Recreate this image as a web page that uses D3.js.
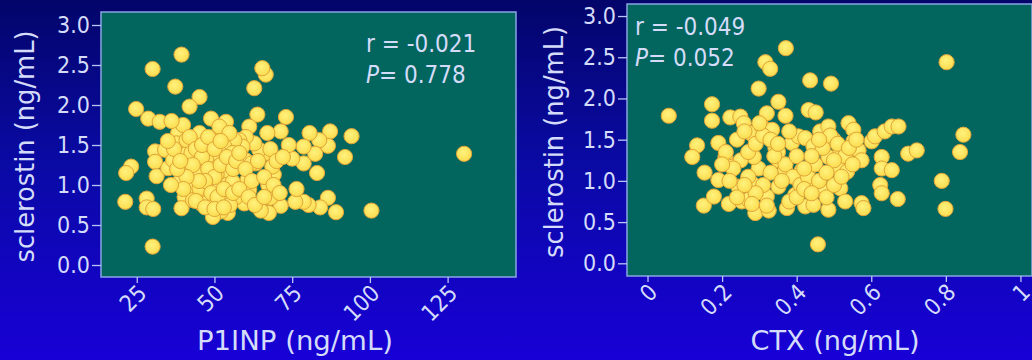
<!DOCTYPE html>
<html>
<head>
<meta charset="utf-8">
<script src="https://cdn.jsdelivr.net/npm/d3@7"></script>
<style>
  html, body { margin: 0; padding: 0; background: #0a0890; }
  svg { display: block; }
  text { font-family: "DejaVu Sans Condensed", "DejaVu Sans", sans-serif; font-stretch: condensed; fill: #d4dcfa; }
</style>
</head>
<body>
<div id="chart"></div>
<script>
// P1INP (ng/mL) vs sclerostin (ng/mL)
const p1npX = [130.3,100.5,94.1,92,89.1,87.2,86.5,86.5,83.7,84,82.4,83,80.6,78.7,78.7,80.3,78.7,76,76.4,75,73.9,73,71.3,71.3,70.7,68,67.5,64.9,66.5,65.4,62.8,63.8,67,66.5,69.1,68.6,67.3,64.4,62.8,63.3,61.2,60.1,58,59,58,60.6,61.2,59.6,60,62,56.4,53.7,53.2,53.7,54.8,53.7,52.7,54.3,52.1,49.5,48.9,51.1,51.6,49.5,48.4,50,47.9,45.7,46.8,45.2,44.1,43.1,42,40.4,39.4,41,39.4,38.3,37.8,39.9,38.8,45.2,42,37.4,39.4,30.1,24.8,28.7,32.4,36.2,23.2,21.6,21.3,28.2,28.2,30.3,30.1,30.9,30.9,31.4,34.1,35.1,36.7,45.2,44.1,46.8,43.1,45.2,49.5,51.6,47.4,55.9,55.9,57,50.7,47.4,51.2,45.2,54.8,41,42.6,
  42,44,46,48,50,52,54,56,47,49,51,53,55,57,43,45,41,46,48,50,52,58,60,62,64,66,68,70,72,40,44,47,50,53,56,58,61,63,66,69,71,38,37,36,39,35];
const p1npY = [1.39,0.68,1.61,1.35,0.66,1.67,1.49,0.84,1.56,0.72,1.39,1.15,1.65,1.48,1.27,0.75,0.79,0.79,0.95,1.33,1.5,1.85,1.67,0.74,0.9,0.84,0.65,0.68,2.38,2.46,2.21,1.88,1.65,1.4,1.13,1.23,1.0,1.44,1.52,1.27,1.73,1.6,1.56,1.48,1.31,1.06,0.94,0.77,1.31,1.27,1.56,1.79,1.48,1.27,1.15,1.0,0.81,0.65,0.67,0.6,1.83,1.63,1.4,1.31,1.15,0.98,0.9,0.77,1.56,1.44,1.27,1.13,0.94,0.85,0.71,1.27,1.4,1.65,1.52,1.75,1.04,2.1,1.98,2.23,2.63,2.45,1.95,1.83,1.79,1.8,1.23,1.15,0.79,0.83,0.72,0.7,0.23,1.42,1.29,1.11,1.44,1.21,1.31,1.65,1.15,0.98,0.81,1.48,1.56,1.73,1.31,1.4,1.04,0.85,1.13,0.77,1.23,0.96,1.65,1.56,1.4,
  1.6,1.45,1.35,1.2,1.1,1.25,1.35,1.2,1.05,0.9,0.85,0.95,0.75,1.3,1.25,1.05,1.1,1.5,1.6,1.45,1.55,1.4,1.2,1.05,1.3,1.1,1.45,1.3,1.35,0.95,0.8,0.72,0.7,0.72,0.9,0.95,0.85,0.75,0.85,1.0,0.9,1.2,1.45,1.0,1.3,1.55];

// CTX (ng/mL) vs sclerostin (ng/mL)
const ctxX = [0.057,0.173,0.173,0.133,0.12,0.153,0.151,0.178,0.19,0.19,0.218,0.209,0.222,0.249,0.258,0.24,0.227,0.244,0.253,0.271,0.289,0.325,0.32,0.28,0.298,0.285,0.276,0.307,0.32,0.351,0.37,0.298,0.316,0.329,0.371,0.436,0.492,0.432,0.451,0.334,0.343,0.351,0.369,0.351,0.374,0.396,0.387,0.405,0.423,0.445,0.414,0.436,0.423,0.445,0.45,0.472,0.485,0.457,0.463,0.485,0.499,0.485,0.508,0.517,0.517,0.53,0.535,0.539,0.552,0.552,0.566,0.574,0.574,0.579,0.601,0.61,0.636,0.655,0.673,0.628,0.628,0.655,0.624,0.628,0.671,0.699,0.722,0.802,0.847,0.838,0.789,0.799,
  0.25,0.27,0.29,0.31,0.33,0.35,0.37,0.39,0.41,0.43,0.45,0.47,0.49,0.51,0.53,0.55,0.33,0.31,0.29,0.27,0.23,0.21,0.26,0.3,0.34,0.36,0.38,0.4,0.42,0.44,0.46,0.48,0.5,0.52,0.54,0.56,0.32,0.28,0.24,0.35,0.38,0.4,0.42,0.44,0.46,0.5,0.48,0.26,0.22,0.2];
const ctxY = [1.79,1.93,1.73,1.43,1.29,1.10,0.70,0.81,1.01,1.46,0.72,1.29,1.77,1.78,1.70,1.50,1.17,0.93,0.75,0.77,0.61,0.64,0.81,0.97,1.15,1.29,1.58,1.66,1.82,1.96,1.79,2.12,2.44,2.36,2.61,2.22,2.18,1.86,1.83,1.62,1.40,1.25,1.13,0.93,0.67,0.83,1.46,1.54,1.52,1.42,1.13,1.17,0.69,0.71,0.99,0.87,0.65,0.23,1.60,1.66,1.50,1.29,1.17,1.33,0.91,0.75,1.11,1.70,1.62,1.48,1.37,1.25,0.73,0.67,1.48,1.54,1.60,1.66,1.66,1.29,1.15,1.13,0.95,0.85,0.78,1.33,1.37,2.44,1.56,1.35,1.00,0.66,
  1.25,1.35,1.45,1.55,1.5,1.35,1.2,1.05,0.95,1.05,1.2,1.4,1.55,1.45,1.3,1.2,1.1,0.95,0.85,1.05,1.15,1.35,1.6,1.7,1.3,1.0,0.75,0.8,0.9,1.3,1.0,0.8,0.95,1.05,1.4,1.5,0.7,0.72,0.8,1.45,1.6,1.3,1.15,0.85,1.5,1.25,1.1,0.95,1.0,1.2];

const yTicks = [0, 0.5, 1.0, 1.5, 2.0, 2.5, 3.0];
const p1npTicks = [25, 50, 75, 100, 125];
const ctxTicks = [0, 0.2, 0.4, 0.6, 0.8, 1];

const width = 1032;
const height = 360;

const svg = d3.select("#chart")
    .append("svg")
    .attr("width", width)
    .attr("height", height);

//Background gradient
const defs = svg.append("defs");
const bg = defs.append("linearGradient")
    .attr("id", "bg")
    .attr("x1", 0).attr("y1", 0)
    .attr("x2", 0).attr("y2", 1);
bg.append("stop").attr("offset", "0%").attr("stop-color", "#03056a");
bg.append("stop").attr("offset", "45%").attr("stop-color", "#0a0aa4");
bg.append("stop").attr("offset", "100%").attr("stop-color", "#1800d6");

const dotFill = defs.append("radialGradient")
    .attr("id", "dot")
    .attr("cx", "45%").attr("cy", "40%").attr("r", "60%");
dotFill.append("stop").attr("offset", "0%").attr("stop-color", "#fff27e");
dotFill.append("stop").attr("offset", "100%").attr("stop-color", "#fbdc4e");

svg.append("rect")
    .attr("width", width)
    .attr("height", height)
    .attr("fill", "url(#bg)");

function drawPanel(cfg) {
    const x = d3.scaleLinear().domain(cfg.xDomain).range(cfg.xRange);
    const y = d3.scaleLinear().domain(cfg.yDomain).range(cfg.yRange);
    const g = svg.append("g");

    //Plot area
    g.append("rect")
        .attr("x", cfg.xRange[0])
        .attr("y", cfg.yRange[1])
        .attr("width", cfg.xRange[1] - cfg.xRange[0])
        .attr("height", cfg.yRange[0] - cfg.yRange[1])
        .attr("fill", "#02665f")
        .attr("stroke", "#8aa4e4")
        .attr("stroke-width", 1.5);

    //Y axis
    const yAxis = g.append("g")
        .attr("transform", `translate(${cfg.xRange[0]},0)`)
        .call(d3.axisLeft(y).tickValues(yTicks).tickFormat(d3.format(".1f")).tickSize(9).tickPadding(2));
    yAxis.select(".domain").remove();
    yAxis.selectAll("line").attr("stroke", "#b8c6f4").attr("stroke-width", 1.3);
    yAxis.selectAll("text")
        .attr("font-size", 23)
        .attr("fill", "#d4dcfa")
        .attr("font-family", null);

    //X axis
    const xAxis = g.append("g")
        .attr("transform", `translate(0,${cfg.yRange[0]})`)
        .call(d3.axisBottom(x).tickValues(cfg.xTicks).tickFormat(d => String(d)).tickSize(6));
    xAxis.select(".domain").remove();
    xAxis.selectAll("line").attr("stroke", "#b8c6f4").attr("stroke-width", 1.3);
    xAxis.selectAll("text")
        .attr("font-size", 23)
        .attr("fill", "#d4dcfa")
        .attr("font-family", null)
        .attr("text-anchor", "end")
        .attr("y", 0)
        .attr("dy", "0.35em")
        .attr("transform", "translate(5,12) rotate(-45)");

    //Points
    g.append("g")
        .selectAll("circle")
        .data(d3.range(cfg.xs.length))
        .enter().append("circle")
        .attr("cx", i => x(cfg.xs[i]))
        .attr("cy", i => y(cfg.ys[i]))
        .attr("r", 7.6)
        .attr("fill", "url(#dot)")
        .attr("stroke", "#e0a43a")
        .attr("stroke-width", 1);

    //Axis titles
    g.append("text")
        .attr("transform", `translate(${cfg.yTitleX},${(cfg.yRange[0] + cfg.yRange[1]) / 2 + 2}) rotate(-90)`)
        .attr("text-anchor", "middle")
        .attr("dy", "0.35em")
        .attr("font-size", 27)
        .attr("textLength", 232)
        .attr("lengthAdjust", "spacingAndGlyphs")
        .text("sclerostin (ng/mL)");
    g.append("text")
        .attr("x", cfg.xTitleX)
        .attr("y", 350)
        .attr("text-anchor", "middle")
        .attr("font-size", 27)
        .attr("textLength", cfg.xTitleLen)
        .attr("lengthAdjust", "spacingAndGlyphs")
        .text(cfg.xTitle);

    //Correlation stats
    g.append("text")
        .attr("x", cfg.statX)
        .attr("y", cfg.statY)
        .attr("font-size", 24)
        .text(cfg.rText);
    const p = g.append("text")
        .attr("x", cfg.statX)
        .attr("y", cfg.statY + 31)
        .attr("font-size", 24);
    p.append("tspan").attr("font-style", "italic").text("P");
    p.append("tspan").text(cfg.pText);
}

drawPanel({
    xs: p1npX, ys: p1npY,
    xDomain: [13.5, 147], xRange: [101, 516],
    yDomain: [-0.15, 3.1625], yRange: [277, 12],
    xTicks: p1npTicks,
    xTitle: "P1INP (ng/mL)", xTitleX: 295, xTitleLen: 196,
    yTitleX: 25,
    statX: 366, statY: 52,
    rText: "r = -0.021", pText: "= 0.778"
});

drawPanel({
    xs: ctxX, ys: ctxY,
    xDomain: [-0.055, 1.031], xRange: [627, 1032],
    yDomain: [-0.154, 3.146], yRange: [276, 4],
    xTicks: ctxTicks,
    xTitle: "CTX (ng/mL)", xTitleX: 835, xTitleLen: 169,
    yTitleX: 554,
    statX: 635, statY: 35,
    rText: "r = -0.049", pText: "= 0.052"
});
</script>
</body>
</html>
